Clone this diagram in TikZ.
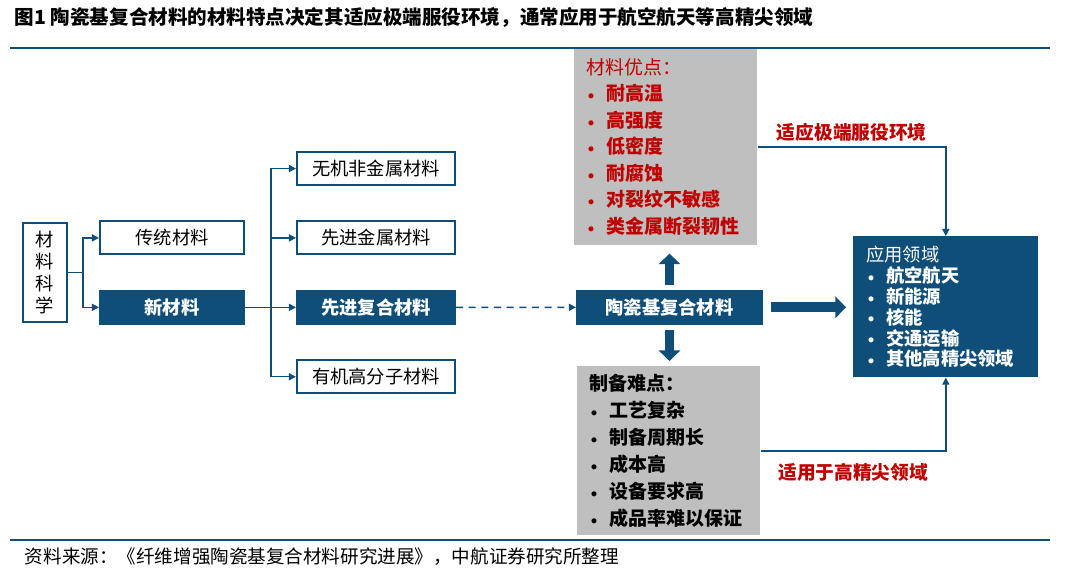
\documentclass[tikz,border=0pt]{standalone}
\usepackage{fontspec}
\setmainfont{Noto Sans CJK SC}
\usetikzlibrary{arrows.meta}
\definecolor{navy}{RGB}{15,78,120}
\definecolor{darkred}{RGB}{192,0,0}
\definecolor{lgray}{RGB}{191,191,191}
\newcommand{\bul}[1]{\makebox[0.5cm][l]{\hspace{0.04cm}\raisebox{0.06em}{$\scriptstyle\bullet$}}{\bfseries #1}}
\tikzset{
  box/.style={draw=navy,line width=1.4pt,minimum width=3.6cm,minimum height=0.825cm,inner sep=0pt,font=\fontsize{13}{15}\selectfont},
  wide/.style={box,minimum width=3.95cm},
  dark/.style={fill=navy,text=white,font=\fontsize{13}{15}\selectfont\bfseries},
  note/.style={anchor=north west,align=left,inner xsep=0.3cm,inner ysep=0pt},
  link/.style={navy,line width=1pt,-{Triangle[length=5pt,width=5pt]}},
  fat/.style={navy,line width=7pt,-{Triangle[length=7.5pt,width=15pt]}},
  lbl/.style={text=darkred,font=\fontsize{13.3}{16}\selectfont\bfseries}
}
\begin{document}
\begin{tikzpicture}[x=0.025cm,y=-0.025cm,node distance=1.735cm]
      \fill[white] (0,0) rectangle (1080,575);
      \useasboundingbox (0,0) rectangle (1080,575);

      \node[anchor=west,font=\fontsize{13.9}{17}\selectfont\bfseries] (0) at (10,18) {图1 陶瓷基复合材料的材料特点决定其适应极端服役环境，通常应用于航空航天等高精尖领域};

      \node[box,align=center,minimum width=1.1cm,minimum height=2.475cm,font=\fontsize{13}{15.6}\selectfont] (1) at (45,272.6) {材\\料\\科\\学};
      \node[box] (2) at (172,237.9) {传统材料};
      \node[box,dark,below of=2] (3) {新材料};
      \node[wide] (4) at (376,168.5) {无机非金属材料};
      \node[wide,below of=4] (5) {先进金属材料};
      \node[wide,dark,below of=5] (6) {先进复合材料};
      \node[wide,below of=6] (7) {有机高分子材料};
      \node[wide,dark,minimum width=4.625cm] (8) at (669.5,307.3) {陶瓷基复合材料};

      \node[note,fill=lgray,text=darkred,text width=3.975cm,minimum height=4.925cm,font=\fontsize{13.5}{18.85}\selectfont] (9) at (574,48) {材料优点：\\\bul{耐高温}\\\bul{高强度}\\\bul{低密度}\\\bul{耐腐蚀}\\\bul{对裂纹不敏感}\\\bul{类金属断裂韧性}};
      \node[note,fill=lgray,text width=3.975cm,minimum height=4.225cm,font=\fontsize{13.5}{19.2}\selectfont] (10) at (577,366) {\textbf{制备难点：}\\\bul{工艺复杂}\\\bul{制备周期长}\\\bul{成本高}\\\bul{设备要求高}\\\bul{成品率难以保证}};
      \node[note,fill=navy,text=white,inner xsep=0.325cm,text width=3.975cm,minimum height=3.525cm,font=\fontsize{13}{14.9}\selectfont] (11) at (853,236) {应用领域\\\bul{航空航天}\\\bul{新能源}\\\bul{核能}\\\bul{交通运输}\\\bul{其他高精尖领域}};

      \draw[navy,line width=1.4pt] (10,48) -- (1050,48);
      \draw[navy,line width=1.4pt] (10,540) -- (1050,540);
      \node[anchor=west,font=\fontsize{13.2}{16}\selectfont] (12) at (20,557) {资料来源：《纤维增强陶瓷基复合材料研究进展》，中航证券研究所整理};

      \coordinate (a) at (83,272.6);
      \coordinate (b) at ([xshift=0.65cm]3.east);
      \draw[navy,line width=1pt] (1) -- (a);
      \draw[link] (a) |- (2);
      \draw[link] (a) |- (3);
      \draw[navy,line width=1pt] (3) -- (b);
      \foreach \n in {4,5,6,7} \draw[link] (b) |- (\n);
      \draw[link,dashed,dash pattern=on 5pt off 4pt] (6) -- (8);

      \draw[fat,shorten <=0.125cm,shorten >=0.2cm] (8.north) -- (8.north |- 9.south);
      \draw[fat,shorten <=0.125cm,shorten >=0.125cm] (8.south) -- (8.south |- 10.north);
      \draw[fat,shorten <=0.2cm,shorten >=0.175cm] (8.east) -- (8.east -| 11.west);

      \draw[link] (9.east) -| node[pos=0.25,above,lbl] {适应极端服役环境} (11.north);
      \draw[link] (10.east) -| node[pos=0.25,below=0.175cm,lbl] {适用于高精尖领域} (11.south);
    \end{tikzpicture}
\end{document}
